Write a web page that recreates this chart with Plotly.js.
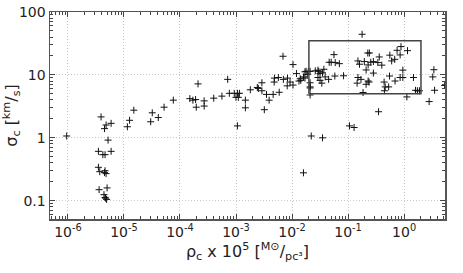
<!DOCTYPE html>
<html>
<head>
<meta charset="utf-8">
<script src="https://cdn.plot.ly/plotly-3.0.1.min.js"></script>
<style>html,body{margin:0;padding:0;background:#fff;}#plot{width:463px;height:273px;}</style>
</head>
<body>
<div id="plot"></div>
<script>
// central density (x 10^5, Msun/pc^3)
const rhoC = [
  9.5e-7, 3.9e-6, 4.8e-6, 4.5e-6, 5.9e-6, 5.2e-6, 3.5e-6, 4.2e-6, 4.6e-6, 5.9e-6,
  3.5e-6, 3.7e-6, 4.6e-6, 4.8e-6, 4.5e-6, 3.6e-6, 5.0e-6, 4.4e-6, 4.6e-6, 4.9e-6, 4.7e-6,
  1.15e-5, 1.26e-5, 1.5e-5, 3.0e-5, 3.2e-5, 4.1e-5, 5.2e-5, 7.6e-5, 2.1e-4, 1.5e-4,
  1.7e-4, 1.9e-4, 1.95e-4, 2.7e-4, 2.7e-4, 4.0e-4, 5.6e-4, 7.1e-4, 7.6e-4, 9.3e-4,
  1.06e-3, 1.15e-3, 1.0e-3, 1.1e-3, 1.06e-3, 1.47e-3, 1.47e-3, 1.8e-3, 2.4e-3, 2.5e-3,
  2.9e-3, 2.9e-3, 3.2e-3, 3.5e-3, 3.9e-3, 4.6e-3, 4.8e-3, 4.85e-3, 5.7e-3, 5.9e-3,
  6.9e-3, 7.0e-3, 8.3e-3, 8.2e-3, 9.2e-3, 1.04e-2, 1.04e-2, 1.2e-2, 1.33e-2, 1.4e-2,
  1.7e-2, 1.7e-2, 1.87e-2, 1.43e-2, 1.6e-2,
  0.0178, 0.0195, 0.021, 0.021, 0.021, 0.021, 0.021, 0.026, 0.029, 0.030,
  0.0316, 0.037, 0.035, 0.029, 0.0316, 0.039, 0.034, 0.045, 0.046, 0.050,
  0.056, 0.059, 0.07, 0.058, 0.083, 0.178, 0.15, 0.16, 0.195, 0.225,
  0.24, 0.228, 0.254, 0.283, 0.21, 0.283, 0.34, 0.36, 0.40, 0.15,
  0.17, 0.145, 0.228, 0.237, 0.21, 0.185, 0.35, 0.106, 0.128, 0.022,
  0.035, 0.44, 0.46, 0.445, 0.53, 0.55, 0.556, 0.60, 0.68, 0.69,
  0.75, 0.85, 0.88, 0.85, 0.95, 0.95, 1.15, 1.12, 1.47, 1.6,
  1.73, 1.88, 2.8, 3.4, 3.25, 3.5, 0.016, 5.3
];
// central velocity dispersion (km/s)
const sigmaC = [
  1.07, 2.15, 1.6, 1.4, 1.7, 0.92, 0.61, 0.54, 0.54, 0.61,
  0.34, 0.29, 0.30, 0.27, 0.28, 0.15, 0.16, 0.125, 0.113, 0.105, 0.11,
  1.5, 1.9, 2.75, 1.8, 2.5, 2.1, 3.07, 3.97, 7.2, 4.2,
  3.97, 4.06, 3.07, 3.87, 3.2, 4.27, 4.6, 8.5, 5.1, 5.1,
  5.1, 5.1, 4.4, 4.4, 1.55, 3.97, 3.0, 5.8, 6.3, 6.1,
  5.6, 7.5, 2.8, 4.9, 3.97, 4.9, 7.7, 8.9, 9.1, 5.3,
  19.8, 8.5, 8.9, 6.7, 7.7, 14.6, 6.9, 10.5, 8.0, 8.7,
  11.2, 8.9, 10.2, 8.2, 9.3,
  11.4, 11.4, 11.4, 7.5, 6.45, 6.2, 4.8, 11.6, 11.9, 11.4,
  10.5, 12.3, 10.8, 9.1, 8.2, 9.3, 7.4, 8.5, 15.9, 15.9,
  21, 15.7, 15.1, 9.6, 9.7, 44.3, 16.7, 14.8, 16.3, 22.3,
  22.3, 14.4, 15.9, 16.3, 12.0, 10.7, 15.7, 19.3, 14.3, 9.1,
  8.5, 7.4, 8.0, 7.7, 7.1, 5.25, 2.6, 1.55, 1.46, 1.07,
  1.0, 7.7, 6.45, 5.6, 6.45, 9.6, 20.6, 16.7, 17.7, 8.0,
  24.6, 20.8, 28.2, 9.1, 11.9, 9.1, 24.3, 4.47, 9.1, 5.7,
  5.6, 5.6, 3.77, 12.1, 9.3, 5.7, 0.278, 6.8
];
// selection box corners (data units)
const boxX = [0.02, 2, 2, 0.02, 0.02];
const boxY = [5, 5, 35, 35, 5];

const xTickVals = [1e-6, 1e-5, 1e-4, 1e-3, 1e-2, 1e-1, 1e0];
const xTickText = ['10<sup>-6</sup>', '10<sup>-5</sup>', '10<sup>-4</sup>', '10<sup>-3</sup>',
                   '10<sup>-2</sup>', '10<sup>-1</sup>', '10<sup>0</sup>'];
const yTickVals = [0.1, 1, 10, 100];
const yTickText = ['0.1', '1', '10', '100'];

function minorVals(lo, hi) {
  const v = [];
  for (let e = lo; e <= hi; e++) for (let m = 2; m <= 9; m++) v.push(m * Math.pow(10, e));
  return v;
}

const axisCommon = {
  type: 'log',
  showline: true, linecolor: '#555', linewidth: 1.5,
  mirror: 'allticks',
  ticks: 'inside', ticklen: 5, tickwidth: 1, tickcolor: '#444',
  showgrid: true, gridcolor: '#c8c8c8', griddash: '1px,2px', gridwidth: 1,
  zeroline: false,
  tickmode: 'array',
  tickfont: {family: 'DejaVu Sans', size: 14, color: '#222'}
};

const traces = [
  {
    x: rhoC, y: sigmaC, type: 'scatter', mode: 'markers',
    marker: {symbol: 'cross-thin', size: 5, color: '#111', line: {width: 1, color: '#111'}},
    hoverinfo: 'skip', showlegend: false
  },
  {
    x: boxX, y: boxY, type: 'scatter', mode: 'lines',
    line: {color: '#444', width: 1.5}, hoverinfo: 'skip', showlegend: false
  }
];

const layout = {
  width: 463, height: 273,
  margin: {l: 50, r: 18, t: 12, b: 54},
  paper_bgcolor: '#fff', plot_bgcolor: '#fff',
  font: {family: 'DejaVu Sans', color: '#222'},
  xaxis: Object.assign({}, axisCommon, {
    range: [-6.32, 0.73],
    tickvals: xTickVals, ticktext: xTickText,
    minor: {tickmode: 'array', tickvals: minorVals(-7, 0), ticks: 'inside', ticklen: 3, tickcolor: '#444', showgrid: false},
    title: {text: 'ρ<sub>c</sub> x 10<sup>5</sup> [<sup>M⊙</sup>/<sub>pc³</sub>]', font: {family: 'DejaVu Sans', size: 16, color: '#222'}, standoff: 5}
  }),
  yaxis: Object.assign({}, axisCommon, {
    range: [-1.29, 2.0],
    tickvals: yTickVals, ticktext: yTickText,
    minor: {tickmode: 'array', tickvals: minorVals(-2, 1), ticks: 'inside', ticklen: 3, tickcolor: '#444', showgrid: false},
    title: {text: 'σ<sub>c</sub> [<sup>km</sup>/<sub>s</sub>]', font: {family: 'DejaVu Sans', size: 16, color: '#222'}, standoff: 2}
  })
};

Plotly.newPlot('plot', traces, layout, {staticPlot: true, displayModeBar: false});
</script>
</body>
</html>
